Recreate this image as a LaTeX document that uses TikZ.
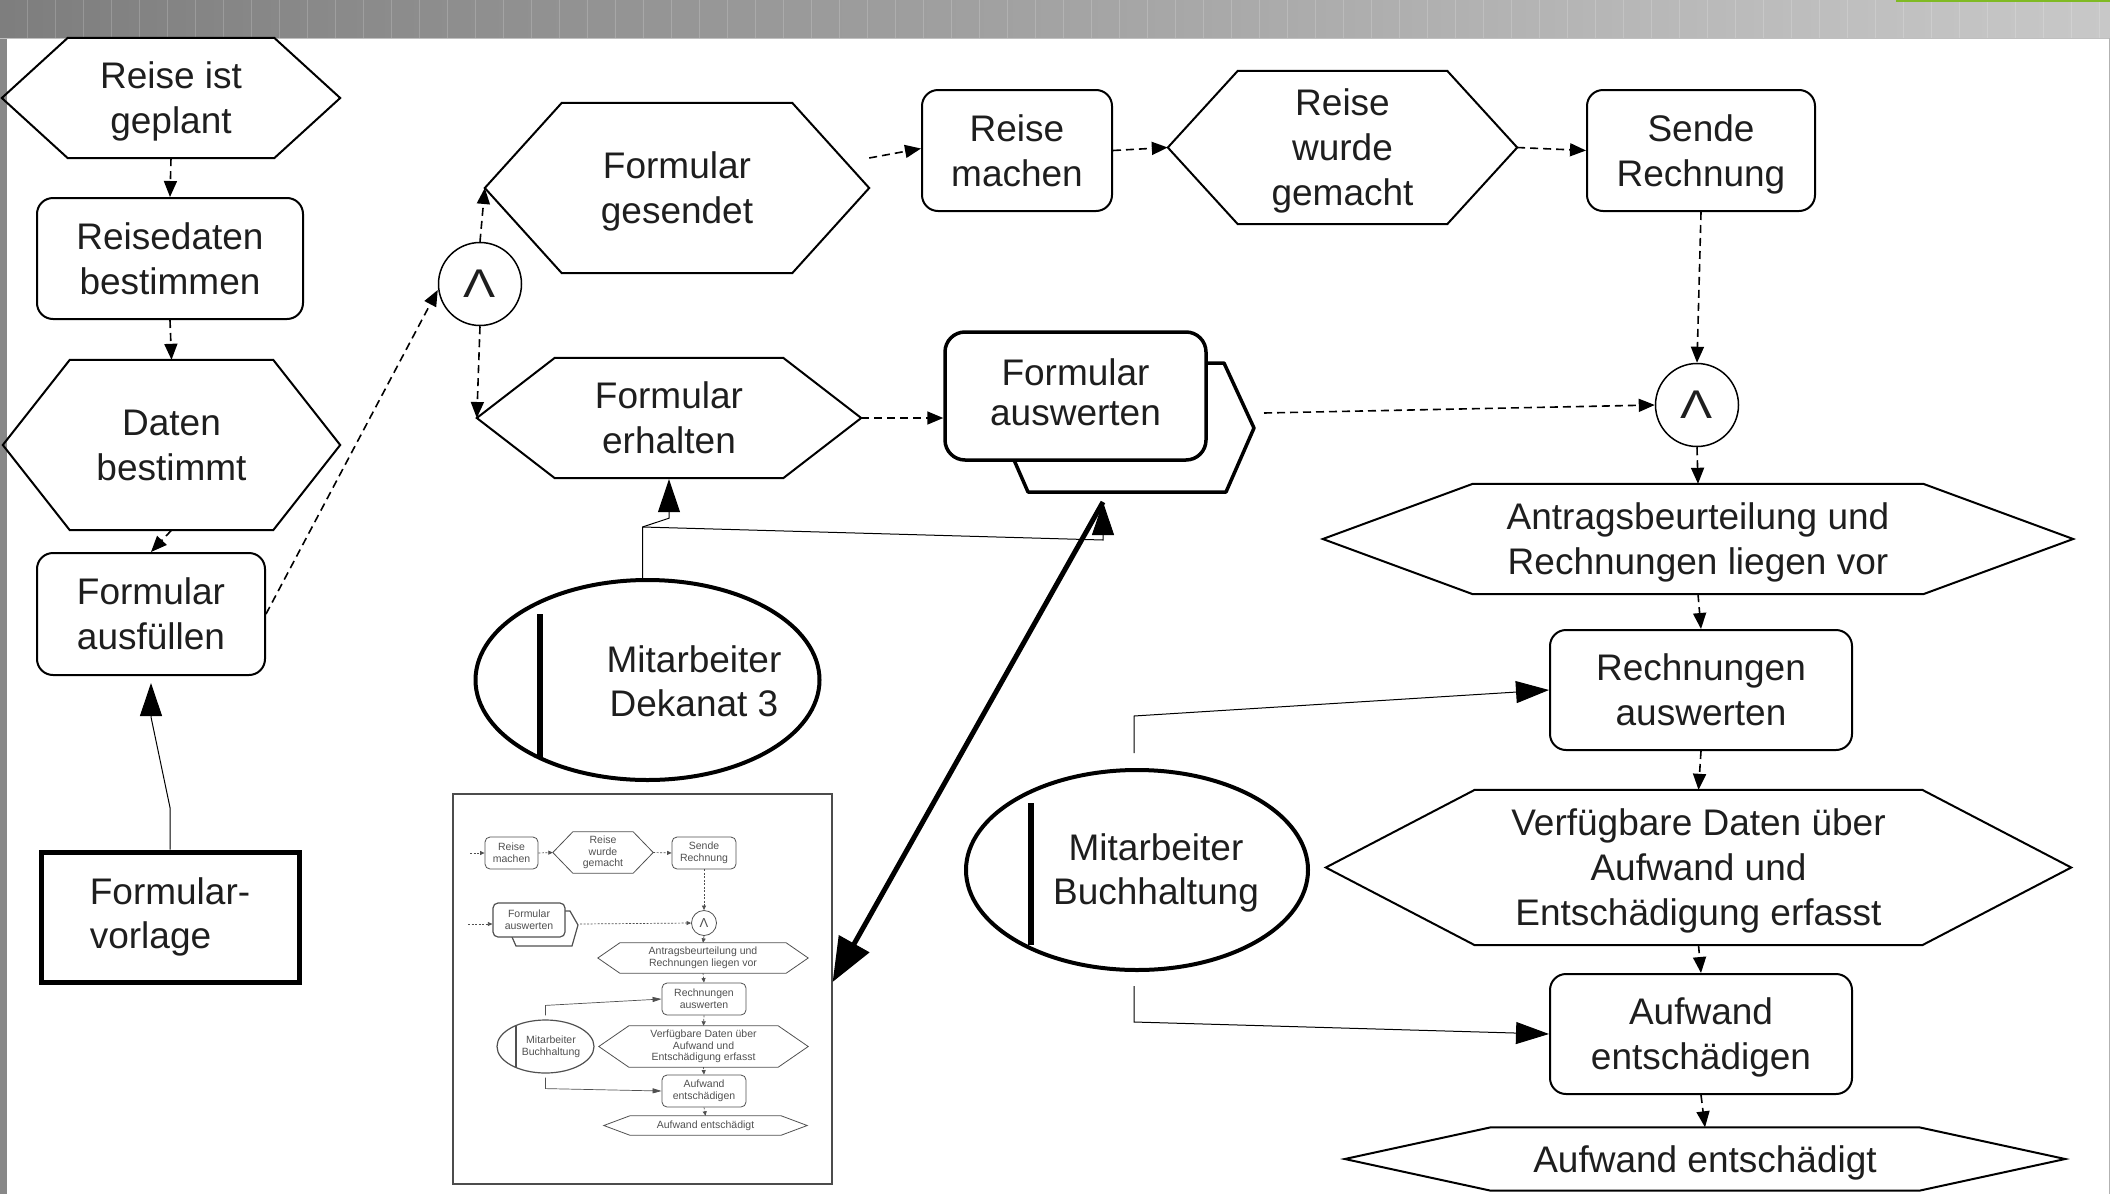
\documentclass[tikz,border=0pt]{standalone}
\usepackage{graphicx}
\usepackage{fontspec}
\setmainfont{Liberation Sans}
\usetikzlibrary{arrows.meta,shapes.geometric}

\definecolor{leistelinks}{RGB}{126,126,126}
\definecolor{leisterechts}{RGB}{200,200,200}
\definecolor{randgrau}{RGB}{136,136,136}
\definecolor{markgruen}{RGB}{128,186,36}
\definecolor{schrift}{RGB}{30,30,30}
\definecolor{minigrau}{RGB}{80,80,80}

% hexagon round an (invisible) event node: #2 = node, #3 = tip depth
\newcommand{\sechseck}[3][rand]{%
  \draw[#1] (#2.west) -- ([xshift=#3]#2.north west) -- ([xshift=-#3]#2.north east)
    -- (#2.east) -- ([xshift=-#3]#2.south east) -- ([xshift=#3]#2.south west) -- cycle;}

\tikzset{
  txt/.style={font=\fontsize{37}{44}\selectfont, text=schrift},
  % fixed depth, so descenders do not move the lines
  ereignis/.style={txt, font=\fontsize{37}{45}\selectfont, rectangle, inner sep=0pt, align=center, text depth=-15pt},
  funktion/.style={txt, font=\fontsize{37}{45}\selectfont, rectangle, draw, line width=2pt, rounded corners=16pt, inner sep=0pt, align=center, text depth=-15pt},
  rand/.style={line width=2pt, line join=miter},
  kontroll/.style={line width=1.6pt, dash pattern=on 8pt off 5pt, -{Triangle[length=16pt,width=13pt]}},
  zuord/.style={line width=1pt, -{Triangle[length=33pt,width=22pt]}},
  undknoten/.style={circle, draw, line width=1.5pt, minimum size=83pt, inner sep=0pt, font=\fontsize{40}{40}\selectfont, text=schrift},
  stelle/.style={ellipse, draw, line width=4pt, minimum width=344pt, minimum height=200pt},
  balken/.style={line width=6pt},
  % small copy
  mtxt/.style={font=\fontsize{10.5}{11.7}\selectfont, text=minigrau},
  mereignis/.style={mtxt, rectangle, inner sep=0pt, align=center},
  mfunktion/.style={mtxt, rectangle, draw=minigrau, line width=0.8pt, rounded corners=5pt, inner sep=0pt, align=center},
  mrand/.style={draw=minigrau, line width=0.8pt},
  mkontroll/.style={draw=minigrau, line width=0.7pt, dash pattern=on 2pt off 1.5pt, -{Triangle[length=4.5pt,width=4pt]}},
  mzuord/.style={draw=minigrau, line width=0.7pt, -{Triangle[length=9pt,width=5pt]}},
}

\begin{document}
\begin{tikzpicture}[x=1pt, y=-1pt]
  \useasboundingbox (0,0) rectangle (2110,1194);

  % Window frame
  \shade[left color=leistelinks, right color=leisterechts] (0,0) rectangle (2110,38);
  \foreach \s in {27,55,...,2100}
    \draw[white, opacity=0.18, line width=1pt] (\s,0) -- (\s,38);
  \draw[markgruen, line width=2pt] (1896,1) -- (2110,1);
  \fill[randgrau] (0,38) rectangle (7,1194);
  \draw[gray!50, line width=1pt] (0,38.5) -- (2110,38.5);
  \draw[gray!60, line width=1pt] (2109.5,38) -- (2109.5,1194);

  % Events
  \node[ereignis, minimum width=338pt, minimum height=120pt] (geplant) at (171,98) {Reise ist\\geplant};
  \sechseck{geplant}{66pt}
  \node[ereignis, minimum width=337pt, minimum height=170pt] (bestimmt) at (171.5,445) {Daten\\bestimmt};
  \sechseck{bestimmt}{67pt}
  \node[ereignis, minimum width=384pt, minimum height=170pt] (gesendet) at (677,188) {Formular\\gesendet};
  \sechseck{gesendet}{77pt}
  \node[ereignis, minimum width=384pt, minimum height=120pt] (erhalten) at (669,418) {Formular\\erhalten};
  \sechseck{erhalten}{78pt}
  \node[ereignis, minimum width=349pt, minimum height=153pt] (gemacht) at (1342.5,147.5) {Reise\\wurde\\gemacht};
  \sechseck{gemacht}{70pt}
  \node[ereignis, minimum width=750pt, minimum height=110pt] (antrag) at (1698,539) {Antragsbeurteilung und\\Rechnungen liegen vor};
  \sechseck{antrag}{150pt}
  \node[ereignis, minimum width=745pt, minimum height=155pt] (verfuegbar) at (1698.5,867.5) {Verfügbare Daten über\\Aufwand und\\Entschädigung erfasst};
  \sechseck{verfuegbar}{149pt}
  \node[ereignis, minimum width=720pt, minimum height=63pt] (entschaedigt) at (1705,1159) {Aufwand entschädigt};
  \sechseck{entschaedigt}{146pt}

  % Functions
  \node[funktion, minimum width=266pt, minimum height=121pt] (reisedaten) at (170,258.5) {Reisedaten\\bestimmen};
  \node[funktion, minimum width=228pt, minimum height=122pt] (ausfuellen) at (151,614) {Formular\\ausfüllen};
  \node[funktion, minimum width=190pt, minimum height=121pt] (machen) at (1017,150.5) {Reise\\machen};
  \node[funktion, minimum width=228pt, minimum height=121pt] (sende) at (1701,150.5) {Sende\\Rechnung};
  \node[funktion, minimum width=302pt, minimum height=120pt] (rechnausw) at (1701,690) {Rechnungen\\auswerten};
  \node[funktion, minimum width=302pt, minimum height=120pt] (aufwand) at (1701,1034) {Aufwand\\entschädigen};

  % process interface
  \draw[line width=3.5pt, line join=round] (1206,363) -- (1224,363) -- (1254,428) -- (1226,492) -- (1028,492) -- (1014,460);
  \node[funktion, line width=3.5pt, fill=white, rounded corners=20pt, minimum width=261pt, minimum height=128pt,
        font=\fontsize{37}{40}\selectfont, text depth=7pt] (fa) at (1075.5,396) {Formular\\auswerten};
  \coordinate (fa-aus) at (1264,413);
  \coordinate (fa-fuss) at (1103,502);

  % Document
  \node[txt, draw, line width=5pt, minimum width=258pt, minimum height=130pt, align=left] (vorlage) at (170,917) {Formular-\\vorlage};

  % Connectors (and)
  \node[undknoten] (and1) at (480,284) {\scalebox{1.2}[1]{Λ}};
  \node[undknoten] (and2) at (1697,405) {\scalebox{1.2}[1]{Λ}};

  % Org units
  \node[stelle] (dek) at (647.5,680) {};
  \draw[balken] (540,614) -- (540,759);
  \node[txt, align=center] (dektext) at (694,681) {Mitarbeiter\\Dekanat 3};
  \node[stelle, minimum width=342pt] (buch) at (1137,870) {};
  \draw[balken] (1031,803) -- (1031,945);
  \node[txt, align=center] (buchtext) at (1156,873) {Mitarbeiter\\Buchhaltung};

  % Control flow
  \draw[kontroll] (geplant.south) -- (reisedaten.north);
  \draw[kontroll] (reisedaten.south) -- (bestimmt.north);
  \draw[kontroll] (bestimmt.south) -- (ausfuellen.north);
  \draw[kontroll] (ausfuellen.east) -- ([yshift=-6pt]and1.west);
  \draw[kontroll] (and1.north) -- (gesendet.west);
  \draw[kontroll] (and1.south) -- (erhalten.west);
  \draw[kontroll] ([yshift=30pt]gesendet.east) -- ([yshift=2pt]machen.west);
  \draw[kontroll] (machen.east) -- (gemacht.west);
  \draw[kontroll] (gemacht.east) -- (sende.west);
  \draw[kontroll] (sende.south) -- (and2.north);
  \draw[kontroll] (erhalten.east) -- (erhalten.east -| fa.west);
  \draw[kontroll] (fa-aus) -- (and2.west);
  \draw[kontroll] (and2.south) -- (antrag.north);
  \draw[kontroll] (antrag.south) -- (rechnausw.north);
  \draw[kontroll] (rechnausw.south) -- (verfuegbar.north);
  \draw[kontroll] (verfuegbar.south) -- (aufwand.north);
  \draw[kontroll] (aufwand.south) -- (entschaedigt.north);

  % Assignments
  \draw[zuord] (vorlage.north) -- ++(0,-42) -- ([yshift=-41pt]ausfuellen.south) -- ([yshift=-7pt]ausfuellen.south);
  \draw[zuord] ([xshift=-5pt]dek.north) -- ++(0,-51) coordinate (dk) -- ([yshift=-40pt]erhalten.south) -- ([yshift=-1pt]erhalten.south);
  \draw[zuord] (dk) -- ([yshift=-38pt]fa-fuss) -- (fa-fuss);
  \draw[zuord] ([xshift=-3pt,yshift=15pt]buch.north) -- ++(0,-37) -- (rechnausw.west);
  \draw[zuord] ([xshift=-3pt,yshift=-14pt]buch.south) -- ++(0,36) -- (aufwand.west);

  % Embedded view of the sub-process
  \node[draw=black!70, line width=1.2pt, minimum width=379pt, minimum height=390pt, inner sep=0pt] (vorschau) at (642.5,989) {};
  \draw[line width=5pt, -{Triangle[length=44pt,width=34pt]}] (fa-fuss) -- ([yshift=7pt]vorschau.east);

  \coordinate (mein1) at (470,853);
  \node[mfunktion, minimum width=53pt, minimum height=32pt] (mmachen) at (511.5,853) {Reise\\machen};
  \node[mereignis, minimum width=100pt, minimum height=41pt] (mgemacht) at (603,852.5) {Reise\\wurde\\gemacht};
  \sechseck[mrand]{mgemacht}{20pt}
  \node[mfunktion, minimum width=64pt, minimum height=32pt] (msende) at (704,853) {Sende\\Rechnung};
  \node[mtxt, circle, draw=minigrau, line width=0.8pt, minimum size=25pt, inner sep=0pt, font=\fontsize{13}{13}\selectfont] (mund) at (704,923) {Λ};
  \draw[mrand, line width=1.2pt] (565,911) -- (570,911) -- (578,925) -- (572,946) -- (516,946) -- (512,937);
  \node[mfunktion, line width=1.2pt, fill=white, minimum width=72pt, minimum height=34pt] (mfa) at (529,920) {Formular\\auswerten};
  \coordinate (mein2) at (468,924);
  \coordinate (maus) at (580,924);
  \node[mereignis, minimum width=210pt, minimum height=30pt] (mantrag) at (703,958) {Antragsbeurteilung und\\Rechnungen liegen vor};
  \sechseck[mrand]{mantrag}{22pt}
  \node[mfunktion, minimum width=84pt, minimum height=32pt] (mrechn) at (704,999) {Rechnungen\\auswerten};
  \node[mereignis, minimum width=209pt, minimum height=41pt] (mverf) at (703.5,1046.5) {Verfügbare Daten über\\Aufwand und\\Entschädigung erfasst};
  \sechseck[mrand]{mverf}{30pt}
  \node[mfunktion, minimum width=84pt, minimum height=32pt] (maufw) at (704,1091) {Aufwand\\entschädigen};
  \node[mereignis, minimum width=203pt, minimum height=19pt] (mentsch) at (705.5,1125.5) {Aufwand entschädigt};
  \sechseck[mrand]{mentsch}{26pt}
  \node[ellipse, draw=minigrau, line width=1.2pt, minimum width=97pt, minimum height=53pt] (mbuch) at (545.5,1046.5) {};
  \draw[minigrau, line width=1.8pt] (516,1026) -- (516,1068);
  \node[mtxt, align=center] (mbuchtext) at (551,1047) {Mitarbeiter\\Buchhaltung};

  \draw[mkontroll] (mein1) -- (mmachen.west);
  \draw[mkontroll] (mmachen.east) -- (mgemacht.west);
  \draw[mkontroll] (mgemacht.east) -- (msende.west);
  \draw[mkontroll] (msende.south) -- (mund.north);
  \draw[mkontroll] (mein2) -- (mein2 -| mfa.west);
  \draw[mkontroll] (maus) -- (mund.west);
  \draw[mkontroll] (mund.south) -- (mantrag.north);
  \draw[mkontroll] (mantrag.south) -- (mrechn.north);
  \draw[mkontroll] (mrechn.south) -- (mverf.north);
  \draw[mkontroll] (mverf.south) -- (maufw.north);
  \draw[mkontroll] (maufw.south) -- (mentsch.north);
  \draw[mzuord] ([yshift=4pt]mbuch.north) -- ++(0,-10) -- (mrechn.west);
  \draw[mzuord] ([yshift=-4pt]mbuch.south) -- ++(0,11) -- (maufw.west);
\end{tikzpicture}
\end{document}
